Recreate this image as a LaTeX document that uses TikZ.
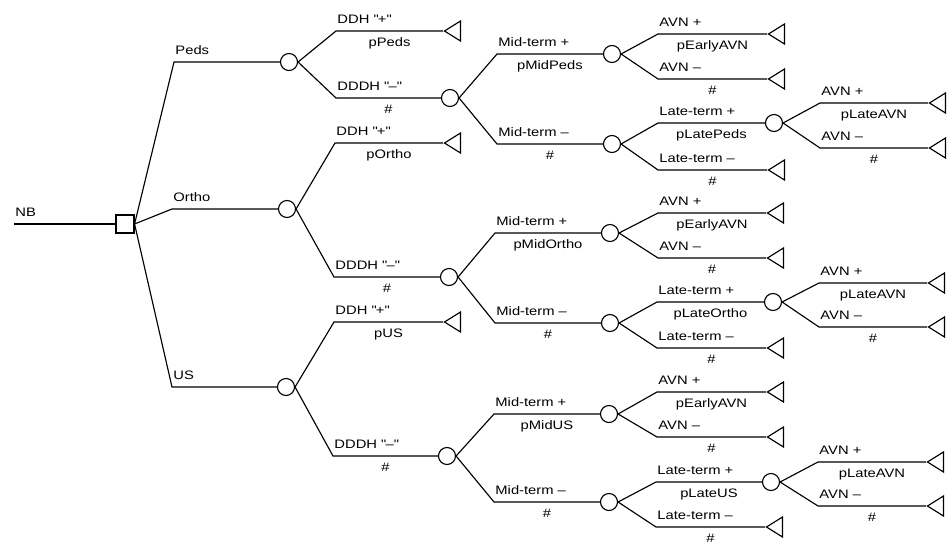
\documentclass[tikz,border=0pt]{standalone}
\usepackage{fontspec}
\setmainfont[FakeStretch=1.2]{Liberation Sans}
\usetikzlibrary{shapes.geometric}

\begin{document}
\begin{tikzpicture}[x=0.02cm, y=-0.02cm, line width=0.65pt,
    every node/.style={font=\fontsize{7}{8}\selectfont},
    chance/.style={draw, circle, inner sep=0pt, minimum size=0.34cm},
    choice/.style={draw, rectangle, inner sep=0pt, minimum size=0.36cm},
    leaf/.style={draw, isosceles triangle, isosceles triangle stretches,
        shape border rotate=180, inner sep=0pt,
        minimum width=0.4cm, minimum height=0.32cm, anchor=apex},
    arm/.style={anchor=base west, inner sep=0pt, xshift=0.5pt, yshift=4.5pt},
    prob/.style={midway, anchor=base, inner sep=0pt, yshift=-9pt}]
    \useasboundingbox (0,0) rectangle (950,544);

    % decision and chance nodes
    \coordinate (nb) at (14,224);
    \node[choice] (dec) at (125,224) {};
    \node[chance] (cPeds) at (289,62) {};
    \node[chance] (cOrtho) at (287,209) {};
    \node[chance] (cUS) at (286,387) {};
    \node[chance] (cPedsM) at (450,98) {};
    \node[chance] (cOrthoM) at (449,277) {};
    \node[chance] (cUSM) at (447,456) {};
    \node[chance] (cPedsMidP) at (612,54) {};
    \node[chance] (cPedsMidM) at (612,144) {};
    \node[chance] (cOrthoMidP) at (610,233) {};
    \node[chance] (cOrthoMidM) at (610,323) {};
    \node[chance] (cUSMidP) at (609,414) {};
    \node[chance] (cUSMidM) at (609,502) {};
    \node[chance] (cPedsLate) at (774,123) {};
    \node[chance] (cOrthoLate) at (773,302) {};
    \node[chance] (cUSLate) at (771,482) {};

    % terminal nodes
    \node[leaf] (tPedsP) at (443,31) {};
    \node[leaf] (tOrthoP) at (443,143) {};
    \node[leaf] (tUSP) at (443,322) {};
    \node[leaf] (tPedsEP) at (767,34) {};
    \node[leaf] (tPedsEM) at (767,79) {};
    \node[leaf] (tPedsLM) at (767,170) {};
    \node[leaf] (tOrthoEP) at (766,213) {};
    \node[leaf] (tOrthoEM) at (766,258) {};
    \node[leaf] (tOrthoLM) at (766,348) {};
    \node[leaf] (tUSEP) at (766,392) {};
    \node[leaf] (tUSEM) at (766,437) {};
    \node[leaf] (tUSLM) at (765,527) {};
    \node[leaf] (tPedsAP) at (928,103) {};
    \node[leaf] (tPedsAM) at (928,148) {};
    \node[leaf] (tOrthoAP) at (927,283) {};
    \node[leaf] (tOrthoAM) at (927,327) {};
    \node[leaf] (tUSAP) at (926,462) {};
    \node[leaf] (tUSAM) at (926,506) {};

    % branch corners
    \coordinate (kPeds) at (174,62);
    \coordinate (kOrtho) at (172,209);
    \coordinate (kUS) at (172,387);
    \coordinate (kPedsP) at (336,31);
    \coordinate (kPedsM) at (336,98);
    \coordinate (kOrthoP) at (335,143);
    \coordinate (kOrthoM) at (334,277);
    \coordinate (kUSP) at (334,322);
    \coordinate (kUSM) at (333,456);
    \coordinate (kPedsMidP) at (497,54);
    \coordinate (kPedsMidM) at (497,144);
    \coordinate (kOrthoMidP) at (495,233);
    \coordinate (kOrthoMidM) at (495,323);
    \coordinate (kUSMidP) at (494,414);
    \coordinate (kUSMidM) at (494,502);
    \coordinate (kPedsEP) at (658,34);
    \coordinate (kPedsEM) at (658,79);
    \coordinate (kPedsLP) at (658,123);
    \coordinate (kPedsLM) at (658,170);
    \coordinate (kOrthoEP) at (658,213);
    \coordinate (kOrthoEM) at (658,258);
    \coordinate (kOrthoLP) at (657,302);
    \coordinate (kOrthoLM) at (657,348);
    \coordinate (kUSEP) at (657,392);
    \coordinate (kUSEM) at (657,437);
    \coordinate (kUSLP) at (656,482);
    \coordinate (kUSLM) at (656,527);
    \coordinate (kPedsAP) at (820,103);
    \coordinate (kPedsAM) at (820,148);
    \coordinate (kOrthoAP) at (819,283);
    \coordinate (kOrthoAM) at (819,327);
    \coordinate (kUSAP) at (818,462);
    \coordinate (kUSAM) at (818,506);

    % root
    \draw (nb) node[arm] (lNB) {NB} -- (dec);
    \draw (dec.east) -- (kPeds) node[arm] (lPeds) {Peds} -- (cPeds);
    \draw (dec.east) -- (kOrtho) node[arm] (lOrtho) {Ortho} -- (cOrtho);
    \draw (dec.east) -- (kUS) node[arm] (lUS) {US} -- (cUS);

    % DDH
    \draw (cPeds.east) -- (kPedsP) node[arm] (lPedsP) {DDH \textquotedbl+\textquotedbl} -- (tPedsP.apex) node[prob] (qPedsP) {pPeds};
    \draw (cPeds.east) -- (kPedsM) node[arm] (lPedsM) {DDDH \textquotedbl–\textquotedbl} -- (cPedsM) node[prob] (qPedsM) {\#};
    \draw (cOrtho.east) -- (kOrthoP) node[arm] (lOrthoP) {DDH \textquotedbl+\textquotedbl} -- (tOrthoP.apex) node[prob] (qOrthoP) {pOrtho};
    \draw (cOrtho.east) -- (kOrthoM) node[arm] (lOrthoM) {DDDH \textquotedbl–\textquotedbl} -- (cOrthoM) node[prob] (qOrthoM) {\#};
    \draw (cUS.east) -- (kUSP) node[arm] (lUSP) {DDH \textquotedbl+\textquotedbl} -- (tUSP.apex) node[prob] (qUSP) {pUS};
    \draw (cUS.east) -- (kUSM) node[arm] (lUSM) {DDDH \textquotedbl–\textquotedbl} -- (cUSM) node[prob] (qUSM) {\#};

    % mid-term
    \draw (cPedsM.east) -- (kPedsMidP) node[arm] (lPedsMidP) {Mid-term +} -- (cPedsMidP) node[prob] (qPedsMidP) {pMidPeds};
    \draw (cPedsM.east) -- (kPedsMidM) node[arm] (lPedsMidM) {Mid-term –} -- (cPedsMidM) node[prob] (qPedsMidM) {\#};
    \draw (cOrthoM.east) -- (kOrthoMidP) node[arm] (lOrthoMidP) {Mid-term +} -- (cOrthoMidP) node[prob] (qOrthoMidP) {pMidOrtho};
    \draw (cOrthoM.east) -- (kOrthoMidM) node[arm] (lOrthoMidM) {Mid-term –} -- (cOrthoMidM) node[prob] (qOrthoMidM) {\#};
    \draw (cUSM.east) -- (kUSMidP) node[arm] (lUSMidP) {Mid-term +} -- (cUSMidP) node[prob] (qUSMidP) {pMidUS};
    \draw (cUSM.east) -- (kUSMidM) node[arm] (lUSMidM) {Mid-term –} -- (cUSMidM) node[prob] (qUSMidM) {\#};

    % early AVN and late-term
    \draw (cPedsMidP.east) -- (kPedsEP) node[arm] (lPedsEP) {AVN +} -- (tPedsEP.apex) node[prob] (qPedsEP) {pEarlyAVN};
    \draw (cPedsMidP.east) -- (kPedsEM) node[arm] (lPedsEM) {AVN –} -- (tPedsEM.apex) node[prob] (qPedsEM) {\#};
    \draw (cPedsMidM.east) -- (kPedsLP) node[arm] (lPedsLP) {Late-term +} -- (cPedsLate) node[prob] (qPedsLP) {pLatePeds};
    \draw (cPedsMidM.east) -- (kPedsLM) node[arm] (lPedsLM) {Late-term –} -- (tPedsLM.apex) node[prob] (qPedsLM) {\#};
    \draw (cOrthoMidP.east) -- (kOrthoEP) node[arm] (lOrthoEP) {AVN +} -- (tOrthoEP.apex) node[prob] (qOrthoEP) {pEarlyAVN};
    \draw (cOrthoMidP.east) -- (kOrthoEM) node[arm] (lOrthoEM) {AVN –} -- (tOrthoEM.apex) node[prob] (qOrthoEM) {\#};
    \draw (cOrthoMidM.east) -- (kOrthoLP) node[arm] (lOrthoLP) {Late-term +} -- (cOrthoLate) node[prob] (qOrthoLP) {pLateOrtho};
    \draw (cOrthoMidM.east) -- (kOrthoLM) node[arm] (lOrthoLM) {Late-term –} -- (tOrthoLM.apex) node[prob] (qOrthoLM) {\#};
    \draw (cUSMidP.east) -- (kUSEP) node[arm] (lUSEP) {AVN +} -- (tUSEP.apex) node[prob] (qUSEP) {pEarlyAVN};
    \draw (cUSMidP.east) -- (kUSEM) node[arm] (lUSEM) {AVN –} -- (tUSEM.apex) node[prob] (qUSEM) {\#};
    \draw (cUSMidM.east) -- (kUSLP) node[arm] (lUSLP) {Late-term +} -- (cUSLate) node[prob] (qUSLP) {pLateUS};
    \draw (cUSMidM.east) -- (kUSLM) node[arm] (lUSLM) {Late-term –} -- (tUSLM.apex) node[prob] (qUSLM) {\#};

    % late AVN
    \draw (cPedsLate.east) -- (kPedsAP) node[arm] (lPedsAP) {AVN +} -- (tPedsAP.apex) node[prob] (qPedsAP) {pLateAVN};
    \draw (cPedsLate.east) -- (kPedsAM) node[arm] (lPedsAM) {AVN –} -- (tPedsAM.apex) node[prob] (qPedsAM) {\#};
    \draw (cOrthoLate.east) -- (kOrthoAP) node[arm] (lOrthoAP) {AVN +} -- (tOrthoAP.apex) node[prob] (qOrthoAP) {pLateAVN};
    \draw (cOrthoLate.east) -- (kOrthoAM) node[arm] (lOrthoAM) {AVN –} -- (tOrthoAM.apex) node[prob] (qOrthoAM) {\#};
    \draw (cUSLate.east) -- (kUSAP) node[arm] (lUSAP) {AVN +} -- (tUSAP.apex) node[prob] (qUSAP) {pLateAVN};
    \draw (cUSLate.east) -- (kUSAM) node[arm] (lUSAM) {AVN –} -- (tUSAM.apex) node[prob] (qUSAM) {\#};
\end{tikzpicture}
\end{document}
